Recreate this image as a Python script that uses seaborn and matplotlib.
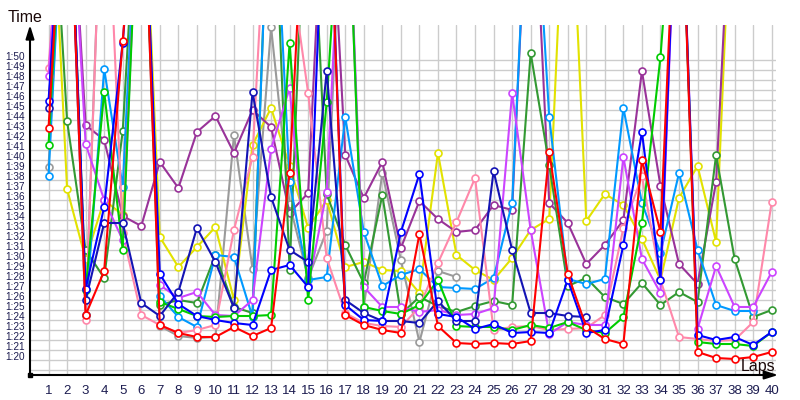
import numpy as np
import pandas as pd
import matplotlib
matplotlib.use("Agg")
import matplotlib.pyplot as plt
import seaborn as sns

# ---------------- data (lap times in seconds; 135 = off the chart) ----------------
laps = list(range(1, 41))
N = None
red = [103.2, 135, 84.5, 88.9, 111.9, 135, 83.5, 82.7, 82.3, 82.3, 83.3, 82.4, 83.2, 98.7, 135, 135, 84.5, 83.5, 83.0, 82.7,
       92.6, 83.4, 81.7, 81.6, 81.7, 81.6, 81.9, 100.8, 88.6, 83.3, 82.1, 81.6, 100.0, 92.8, 135, 80.8, 80.2, 80.1, 80.3, 80.8]
green = [101.5, 135, 87.0, 106.8, 91.0, 135, 85.8, 85.1, 84.4, 84.3, 84.4, 84.4, 84.5, 111.7, 86.0, 105.8, 135, 85.3, 84.9, 84.6,
         85.5, 88.0, 83.4, 83.3, 83.3, 83.0, 83.5, 83.2, 83.8, 83.0, 82.7, 84.3, 93.7, 110.3, 135, 81.8, 81.6, 81.6, 81.4, 82.8]
dkgreen = [135, 103.9, 91.0, 88.2, 102.9, 135, 85.5, 86.0, 85.7, 90.5, 85.3, 84.7, 135, 89.0, 135, 96.6, 91.5, 87.7, 96.5, 84.6,
           86.3, 85.4, 84.8, 85.4, 85.9, 85.5, 110.7, 99.5, 87.4, 88.2, 86.3, 85.6, 87.7, 85.5, 86.8, 85.8, 100.5, 90.1, 84.3, 85.0]
blue = [105.9, 135, 87.1, 95.3, 111.7, 135, 88.6, 85.6, 84.4, 84.0, 83.7, 83.5, 89.0, 89.5, 87.3, 135, 85.5, 84.0, 83.9, 92.8,
        98.6, 84.6, 84.3, 83.1, 83.6, 82.7, 82.8, 82.7, 88.0, 82.7, 83.0, 91.5, 102.8, 88.0, 135, 82.5, 82.0, 82.3, 81.5, 82.8]
navy = [105.2, 135, 86.0, 93.7, 93.7, 85.7, 84.4, 86.8, 93.2, 89.8, 85.2, 106.8, 96.3, 91.0, 89.8, 108.9, 86.0, 84.7, 83.9, 83.9,
        83.7, 85.9, 83.9, 83.9, 98.9, 91.0, 84.7, 84.7, 84.4, 84.3, N, N, N, N, N, N, N, N, N, N]
ltblue = [98.4, 135, 84.5, 109.1, 97.3, 135, 86.4, 84.3, 83.3, 90.5, 90.3, 84.3, 135, 97.8, 88.0, 88.3, 104.3, 92.8, 87.4, 88.5,
          89.1, 87.3, 87.2, 87.1, 88.2, 95.7, 135, 104.3, 88.1, 87.6, 88.1, 105.2, 95.7, 90.7, 98.7, 91.0, 85.5, 84.9, 84.9, N]
pink = [109.2, 135, 84.0, 135, 92.7, 84.5, 83.5, 82.7, 83.0, 83.5, 93.0, 100.3, 135, 120, 106.7, 90.2, 84.7, 83.7, 83.4, 83.3,
        85.3, 89.7, 93.8, 98.2, 83.0, 83.3, 83.4, 83.0, 83.1, 83.2, 84.5, 93.2, 98.4, 88.0, 82.3, 82.1, 81.9, 82.0, 83.8, 95.8]
violet = [108.4, 135, 101.6, 96.0, 92.0, 135, 87.5, 86.2, 86.8, 84.5, 84.4, 86.0, 101.1, 107.2, 87.4, 96.8, 135, 87.3, 85.3, 85.3,
          84.8, 85.0, 84.5, 84.6, 85.2, 106.7, 93.0, 82.6, 83.8, 83.5, 83.5, 100.3, 90.1, 86.7, 135, 83.1, 89.4, 85.3, 85.3, 88.8]
purple = [135, 135, 103.5, 102.0, 94.4, 93.4, 99.8, 97.2, 102.8, 104.4, 100.7, 105.0, 103.3, 94.7, 96.7, 135, 100.5, 96.2, 99.8, 91.2,
          95.9, 94.1, 92.8, 93.0, 95.5, 95.0, 135, 95.7, 93.7, 89.6, 91.5, 94.0, 108.9, 97.4, 89.6, 87.6, 97.8, 135, 135, 135]
yellow = [135, 97.1, 90.1, 96.0, 94.5, 135, 92.3, 89.3, 91.3, 93.3, 86.0, 101.5, 105.2, 99.4, 93.2, 96.0, 89.3, 89.8, 89.0, 88.9,
          86.7, 100.7, 90.5, 89.0, 88.0, 90.2, 93.0, 94.1, 135, 93.9, 96.6, 95.5, 92.1, 88.0, 96.2, 99.4, 91.8, 135, 135, 135]
gray = [99.3, 135, 84.5, 135, 135, 135, 83.4, 82.4, 82.2, 82.3, 102.5, 89.1, 113.3, 95.6, 88.2, 92.9, 135, 85.3, 98.7, 90.0,
        81.8, 88.9, 88.3, N, N, N, N, N, N, N, N, N, N, N, N, N, N, N, N, N]

series = {
    "gray": (gray, "#9a9a9a"),
    "yellow": (yellow, "#e2e200"),
    "purple": (purple, "#993399"),
    "dkgreen": (dkgreen, "#339933"),
    "ltblue": (ltblue, "#0099ff"),
    "pink": (pink, "#ff88aa"),
    "violet": (violet, "#cc44ff"),
    "green": (green, "#00cc00"),
    "navy": (navy, "#1414b4"),
    "blue": (blue, "#0000ff"),
    "red": (red, "#ff0000"),
}

y_ticks = list(range(79, 111))
y_labels = ["" if t == 79 else f"1:{t - 60:02d}" for t in y_ticks]

rows = []
for name, (vals, _) in series.items():
    for lap, v in zip(laps, vals):
        rows.append({"lap": lap, "time": np.nan if v is None else v, "driver": name})
df = pd.DataFrame(rows).dropna()

# ---------------- plotting ----------------
sns.set_style("white")
plt.rcParams["font.family"] = ["Liberation Sans", "DejaVu Sans"]

fig = plt.figure(figsize=(8, 4), dpi=100)
ax = fig.add_axes([30 / 800, 25 / 400, 746 / 800, 350 / 400])

order = list(series.keys())
palette = {k: c for k, (_, c) in series.items()}
sns.lineplot(data=df, x="lap", y="time", hue="driver", hue_order=order, palette=palette,
             estimator=None, sort=False, marker="o", markersize=5, markeredgewidth=1.2,
             markerfacecolor="white", linewidth=1.5, legend=False, ax=ax)
for ln in ax.lines:
    ln.set_markeredgecolor(ln.get_color())
    ln.set_markerfacecolor("white")

ax.set_xlim(0, 40.23)
ax.set_ylim(78.5, 113.5)
ax.set_xlabel("")
ax.set_ylabel("")

ax.set_xticks(laps, [str(l) for l in laps])
ax.set_yticks(y_ticks, y_labels, ha="left", va="baseline")
ax.tick_params(axis="x", length=0, pad=7, labelsize=9.5, labelcolor="#1c1c50")
ax.tick_params(axis="y", length=0, pad=18, labelsize=7.2, labelcolor="#1c1c50")
for lbl in ax.get_yticklabels():
    lbl.set_fontfamily(["Liberation Sans Narrow", "Liberation Sans"])

ax.grid(True, color="#cccccc", linewidth=1)
ax.set_axisbelow(True)
for s in ax.spines.values():
    s.set_visible(False)

arrow = dict(arrowstyle="-|>,head_length=0.8,head_width=0.25", lw=1.5, color="black",
             shrinkA=0, shrinkB=0)
ax.annotate("", xy=(0, 1.0), xytext=(0, 0), xycoords="axes fraction", arrowprops=arrow,
            annotation_clip=False)
ax.annotate("", xy=(1.003, 0), xytext=(0, 0), xycoords="axes fraction", arrowprops=arrow,
            annotation_clip=False)
ax.plot([0], [0], marker="s", markersize=3, color="black", transform=ax.transAxes, clip_on=False)

fig.text(8 / 800, 1 - 22 / 400, "Time", fontsize=11.5, color="#1a0808", ha="left", va="baseline")
fig.text(775 / 800, 1 - 371 / 400, "Laps", fontsize=11.5, color="#1a0808", ha="right", va="baseline")

fig.savefig("out.png", dpi=100)
